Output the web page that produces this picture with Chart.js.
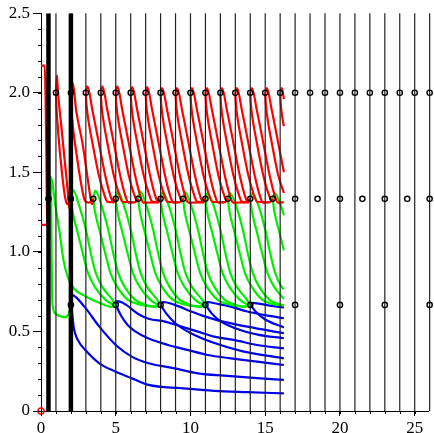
<!DOCTYPE html>
<html>
<head>
<meta charset="utf-8">
<script src="https://cdn.jsdelivr.net/npm/chart.js@4.4.1/dist/chart.umd.min.js"></script>
<style>
  html, body { margin: 0; padding: 0; background: #fff; }
</style>
</head>
<body>
<canvas id="chart" width="434" height="433"></canvas>
<script>
// grid of vertical lines and the marked nodes
const thinX = [1,2,3,4,5,6,7,8,9,10,11,12,13,14,15,16,17,18,19,20,21,22,23,24,25,26];
const thickX = [0.5, 2];
const nodes2X = [1,2,3,4,5,6,7,8,9,10,11,12,13,14,15,16,17,18,19,20,21,22,23,24,25,26];
const nodes43X = [0.5,2,3.5,5,6.5,8,9.5,11,12.5,14,15.5,17,18.5,20,21.5,23,24.5,26];
const nodes23X = [2,5,8,11,14,17,20,23,26];
const originNode = [[0, 0]];

const xTicks = [0, 5, 10, 15, 20, 25];
const yTicks = [0, 0.5, 1.0, 1.5, 2.0, 2.5];

// red, level 2 -> 4/3: branch with the overshoot peak
const redPeak = [
  [[0,2.17],[0.25,2.17],[0.3,2.0],[0.36,1.6],[0.4,1.25],[0.42,1.17]],
  [[0,1.17],[0.4,1.17],[0.46,1.25],[0.5,1.333]],
  [[1,2.0],[1.07,2.11],[1.14,2.0],[1.36,1.79],[1.58,1.58],[1.8,1.37],[1.9,1.27],[2,1.333]],
  [[2,2.0],[2.13,2.06],[2.35,1.89],[2.78,1.68],[3.11,1.47],[3.33,1.33],[3.42,1.30],[3.5,1.333]],
  [[3,2.0],[3.11,2.04],[3.44,1.89],[3.88,1.68],[4.32,1.47],[4.65,1.35],[4.85,1.31],[5,1.333]],
  [[4,2.0],[4.11,2.04],[4.44,1.89],[4.88,1.68],[5.32,1.47],[5.65,1.35],[5.85,1.31],[6.3,1.312],[6.5,1.333]],
  [[5,2.0],[5.11,2.04],[5.44,1.89],[5.88,1.68],[6.32,1.47],[6.65,1.35],[6.85,1.31],[7.8,1.312],[8,1.333]],
  [[6,2.0],[6.11,2.035],[6.44,1.89],[6.88,1.68],[7.32,1.47],[7.65,1.35],[7.85,1.31],[8,1.333]],
  [[7,2.0],[7.11,2.035],[7.44,1.89],[7.88,1.68],[8.32,1.47],[8.65,1.35],[8.85,1.31],[9.3,1.312],[9.5,1.333]],
  [[8,2.0],[8.11,2.03],[8.44,1.89],[8.88,1.68],[9.32,1.47],[9.65,1.35],[9.85,1.31],[10.8,1.312],[11,1.333]],
  [[9,2.0],[9.11,2.03],[9.44,1.89],[9.88,1.68],[10.32,1.47],[10.65,1.35],[10.85,1.31],[11,1.333]],
  [[10,2.0],[10.11,2.03],[10.44,1.89],[10.88,1.68],[11.32,1.47],[11.65,1.35],[11.85,1.31],[12.3,1.312],[12.5,1.333]],
  [[11,2.0],[11.11,2.03],[11.44,1.89],[11.88,1.68],[12.32,1.47],[12.65,1.35],[12.85,1.31],[13.8,1.312],[14,1.333]],
  [[12,2.0],[12.11,2.03],[12.44,1.89],[12.88,1.68],[13.32,1.47],[13.65,1.35],[13.85,1.31],[14,1.333]],
  [[13,2.0],[13.11,2.03],[13.44,1.89],[13.88,1.68],[14.32,1.47],[14.65,1.35],[14.85,1.31],[15.3,1.312],[15.5,1.333]],
  [[14,2.0],[14.11,2.03],[14.44,1.89],[14.88,1.68],[15.32,1.47],[15.65,1.35],[15.85,1.31],[16.25,1.312]],
  [[15,2.0],[15.11,2.03],[15.44,1.89],[15.88,1.68],[16.25,1.50]],
  [[16,2.0],[16.11,2.03],[16.25,1.96]]
];
// red, branch that drops straight from the node
const redDrop = [
  [[1,2.0],[1.04,1.9],[1.15,1.75],[1.4,1.5],[1.6,1.35],[1.75,1.30],[2,1.333]],
  [[2,2.0],[2.04,1.9],[2.12,1.8],[2.4,1.6],[2.7,1.42],[2.95,1.32],[3.2,1.31],[3.5,1.333]],
  [[3,2.0],[3.04,1.93],[3.15,1.84],[3.45,1.68],[3.85,1.49],[4.2,1.37],[4.45,1.315],[4.8,1.312],[5,1.333]],
  [[4,2.0],[4.04,1.93],[4.15,1.84],[4.45,1.68],[4.85,1.49],[5.2,1.37],[5.45,1.315],[6.3,1.312],[6.5,1.333]],
  [[5,2.0],[5.04,1.93],[5.15,1.84],[5.45,1.68],[5.85,1.49],[6.2,1.37],[6.45,1.32],[6.5,1.333]],
  [[6,2.0],[6.04,1.93],[6.15,1.84],[6.45,1.68],[6.85,1.49],[7.2,1.37],[7.45,1.315],[7.8,1.312],[8,1.333]],
  [[7,2.0],[7.04,1.93],[7.15,1.84],[7.45,1.68],[7.85,1.49],[8.2,1.37],[8.45,1.315],[9.3,1.312],[9.5,1.333]],
  [[8,2.0],[8.04,1.93],[8.15,1.84],[8.45,1.68],[8.85,1.49],[9.2,1.37],[9.45,1.32],[9.5,1.333]],
  [[9,2.0],[9.04,1.93],[9.15,1.84],[9.45,1.68],[9.85,1.49],[10.2,1.37],[10.45,1.315],[10.8,1.312],[11,1.333]],
  [[10,2.0],[10.04,1.93],[10.15,1.84],[10.45,1.68],[10.85,1.49],[11.2,1.37],[11.45,1.315],[12.3,1.312],[12.5,1.333]],
  [[11,2.0],[11.04,1.93],[11.15,1.84],[11.45,1.68],[11.85,1.49],[12.2,1.37],[12.45,1.32],[12.5,1.333]],
  [[12,2.0],[12.04,1.93],[12.15,1.84],[12.45,1.68],[12.85,1.49],[13.2,1.37],[13.45,1.315],[13.8,1.312],[14,1.333]],
  [[13,2.0],[13.04,1.93],[13.15,1.84],[13.45,1.68],[13.85,1.49],[14.2,1.37],[14.45,1.315],[15.3,1.312],[15.5,1.333]],
  [[14,2.0],[14.04,1.93],[14.15,1.84],[14.45,1.68],[14.85,1.49],[15.2,1.37],[15.45,1.32],[15.5,1.333]],
  [[15,2.0],[15.04,1.93],[15.15,1.84],[15.45,1.68],[15.85,1.49],[16.25,1.37]],
  [[16,2.0],[16.04,1.93],[16.15,1.84],[16.25,1.79]]
];

// green, level 4/3 -> 2/3: branch with the overshoot peak
const greenPeak = [
  [[0.5,1.333],[0.62,1.47],[0.75,1.44],[0.95,1.3],[1.25,1.12],[1.5,0.95],[1.8,0.84],[2.2,0.77],[3.0,0.72],[3.9,0.68],[4.7,0.655],[5,0.667]],
  [[2,1.333],[2.13,1.39],[2.57,1.285],[3.0,1.14],[3.34,0.99],[3.67,0.866],[4.1,0.78],[4.77,0.70],[5,0.667]],
  [[3.5,1.333],[3.63,1.385],[4.07,1.285],[4.5,1.14],[4.84,0.99],[5.17,0.866],[5.6,0.78],[6.27,0.70],[6.8,0.675],[7.6,0.655],[8,0.667]],
  [[5,1.333],[5.13,1.38],[5.57,1.285],[6,1.14],[6.34,0.99],[6.67,0.866],[7.1,0.78],[7.77,0.70],[8,0.667]],
  [[6.5,1.333],[6.63,1.38],[7.07,1.285],[7.5,1.14],[7.84,0.99],[8.17,0.866],[8.6,0.78],[9.27,0.70],[9.8,0.675],[10.6,0.655],[11,0.667]],
  [[8,1.333],[8.13,1.375],[8.57,1.285],[9,1.14],[9.34,0.99],[9.67,0.866],[10.1,0.78],[10.77,0.70],[11,0.667]],
  [[9.5,1.333],[9.63,1.375],[10.07,1.285],[10.5,1.14],[10.84,0.99],[11.17,0.866],[11.6,0.78],[12.27,0.70],[12.8,0.675],[13.6,0.655],[14,0.667]],
  [[11,1.333],[11.13,1.37],[11.57,1.285],[12,1.14],[12.34,0.99],[12.67,0.866],[13.1,0.78],[13.77,0.70],[14,0.667]],
  [[12.5,1.333],[12.63,1.37],[13.07,1.285],[13.5,1.14],[13.84,0.99],[14.17,0.866],[14.6,0.78],[15.27,0.70],[15.8,0.675],[16.25,0.665]],
  [[14,1.333],[14.13,1.37],[14.57,1.285],[15,1.14],[15.34,0.99],[15.67,0.866],[16.1,0.78],[16.25,0.765]],
  [[15.5,1.333],[15.63,1.37],[16.07,1.285],[16.25,1.23]]
];
// green, branch that leaves the node downward
const greenDrop = [
  [[0.5,1.333],[0.6,1.47],[0.66,1.45],[0.7,1.1],[0.74,0.75],[0.8,0.65],[1.0,0.61],[1.3,0.595],[1.6,0.59],[1.85,0.61],[2,0.667]],
  [[2,1.333],[2.1,1.26],[2.4,1.14],[2.8,0.99],[3.15,0.866],[3.6,0.78],[4.3,0.70],[4.75,0.672],[5,0.667]],
  [[3.5,1.333],[3.6,1.26],[3.9,1.14],[4.3,0.99],[4.65,0.866],[5.1,0.78],[5.8,0.70],[6.4,0.675],[7.6,0.657],[8,0.667]],
  [[5,1.333],[5.1,1.26],[5.4,1.14],[5.8,0.99],[6.15,0.866],[6.6,0.78],[7.3,0.70],[7.75,0.672],[8,0.667]],
  [[6.5,1.333],[6.6,1.26],[6.9,1.14],[7.3,0.99],[7.65,0.866],[8.1,0.78],[8.8,0.70],[9.4,0.675],[10.6,0.657],[11,0.667]],
  [[8,1.333],[8.1,1.26],[8.4,1.14],[8.8,0.99],[9.15,0.866],[9.6,0.78],[10.3,0.70],[10.75,0.672],[11,0.667]],
  [[9.5,1.333],[9.6,1.26],[9.9,1.14],[10.3,0.99],[10.65,0.866],[11.1,0.78],[11.8,0.70],[12.4,0.675],[13.6,0.657],[14,0.667]],
  [[11,1.333],[11.1,1.26],[11.4,1.14],[11.8,0.99],[12.15,0.866],[12.6,0.78],[13.3,0.70],[13.75,0.672],[14,0.667]],
  [[12.5,1.333],[12.6,1.26],[12.9,1.14],[13.3,0.99],[13.65,0.866],[14.1,0.78],[14.8,0.70],[15.4,0.675],[16.25,0.662]],
  [[14,1.333],[14.1,1.26],[14.4,1.14],[14.8,0.99],[15.15,0.866],[15.6,0.78],[16.25,0.705]],
  [[15.5,1.333],[15.6,1.26],[15.9,1.14],[16.25,1.01]]
];

// blue, level 2/3 -> 0, two from each node
const blueCurves = [
  [[2,0.667],[2.05,0.73],[2.9,0.656],[3.9,0.53],[5.0,0.415],[6.1,0.34],[7.2,0.30],[8.95,0.268],[10.5,0.237],[12.25,0.222],[14.45,0.206],[16.25,0.195]],
  [[2,0.667],[2.1,0.6],[2.2,0.52],[2.46,0.447],[3.0,0.38],[3.9,0.30],[5.0,0.247],[6.1,0.205],[7.2,0.164],[9.4,0.143],[11.6,0.126],[13.8,0.118],[16.25,0.111]],
  [[5,0.667],[5.1,0.69],[5.65,0.67],[6.5,0.61],[7.2,0.58],[8.3,0.562],[9.4,0.53],[10.5,0.499],[11.6,0.467],[12.9,0.447],[14.45,0.415],[16.25,0.394]],
  [[5,0.667],[5.35,0.6],[5.8,0.54],[6.3,0.5],[7.2,0.455],[8.5,0.415],[9.8,0.384],[11.15,0.352],[12.7,0.331],[14.45,0.31],[16.25,0.289]],
  [[8,0.667],[8.15,0.685],[8.95,0.667],[10.05,0.625],[11,0.593],[12.25,0.56],[13.8,0.53],[16.25,0.489]],
  [[8,0.667],[8.4,0.61],[9,0.55],[10,0.49],[11.5,0.43],[13.5,0.375],[16.25,0.331]],
  [[11,0.667],[11.15,0.685],[11.6,0.677],[12.7,0.656],[13.8,0.625],[14.9,0.604],[16.25,0.583]],
  [[11,0.667],[11.4,0.615],[12,0.565],[13,0.52],[14.5,0.48],[16.25,0.457]],
  [[14,0.667],[14.15,0.68],[15.3,0.662],[16.25,0.65]],
  [[14,0.667],[14.4,0.62],[15,0.575],[16.25,0.525]]
];

const pts = arr => arr.map(p => ({ x: p[0], y: p[1] }));
const tickFont = { family: "'Liberation Serif', 'DejaVu Serif', serif", size: 17 };

const datasets = [];

// nodes on top
function nodeSet(xs, y, color) {
  datasets.push({
    data: xs.map(x => ({ x: x, y: y })),
    showLine: false, clip: false,
    pointRadius: 2.6, pointBorderWidth: 1.4,
    pointBorderColor: color, pointBackgroundColor: 'rgba(255,255,255,0)'
  });
}
nodeSet(nodes2X, 2.0, '#000');
nodeSet(nodes43X, 4 / 3, '#000');
nodeSet(nodes23X, 2 / 3, '#000');
datasets.push({
  data: pts(originNode), showLine: false, clip: false,
  pointRadius: 3, pointBorderWidth: 1.4,
  pointBorderColor: '#ff0000', pointBackgroundColor: 'rgba(255,255,255,0)'
});

// vertical lines
thickX.forEach(x => datasets.push({
  data: [{ x: x, y: 0 }, { x: x, y: 2.5 }],
  showLine: true, borderColor: '#000', borderWidth: 4.5, pointRadius: 0
}));
thinX.forEach(x => datasets.push({
  data: [{ x: x, y: 0 }, { x: x, y: 2.5 }],
  showLine: true, borderColor: '#222', borderWidth: 1.2, pointRadius: 0, clip: false
}));

function curveSet(list, color) {
  list.forEach(c => datasets.push({
    data: pts(c), showLine: true, borderColor: color, borderWidth: 2.2,
    pointRadius: 0, cubicInterpolationMode: 'monotone'
  }));
}
curveSet(redPeak, '#ff0000');
curveSet(redDrop, '#ff0000');
curveSet(greenPeak, '#00ee00');
curveSet(greenDrop, '#00ee00');
curveSet(blueCurves, '#0000ee');

// minor ticks along both axes
const minorTicks = {
  id: 'minorTicks',
  afterDraw(chart) {
    const ctx = chart.ctx, xs = chart.scales.x, ys = chart.scales.y;
    ctx.save();
    ctx.strokeStyle = '#000';
    ctx.lineWidth = 1;
    ctx.beginPath();
    for (let i = 0; i <= 25; i++) {
      const px = Math.round(xs.getPixelForValue(i)) + 0.5;
      ctx.moveTo(px, ys.bottom);
      ctx.lineTo(px, ys.bottom + 3);
    }
    for (let i = 0; i <= 25; i++) {
      const py = Math.round(ys.getPixelForValue(i / 10)) + 0.5;
      ctx.moveTo(xs.left, py);
      ctx.lineTo(xs.left - 3, py);
    }
    ctx.stroke();
    ctx.restore();
  }
};

new Chart(document.getElementById('chart'), {
  type: 'scatter',
  data: { datasets: datasets },
  options: {
    responsive: false,
    animation: false,
    layout: { padding: { top: 13, right: 0, left: 0, bottom: 0 } },
    plugins: { legend: { display: false }, tooltip: { enabled: false } },
    elements: { line: { tension: 0 } },
    scales: {
      x: {
        type: 'linear', min: 0, max: 25.93,
        afterFit: s => { s.height = 22; },
        afterBuildTicks: s => { s.ticks = xTicks.map(v => ({ value: v })); },
        ticks: {
          color: '#000', padding: 2, maxRotation: 0, autoSkip: false,
          font: tickFont,
          callback: v => String(v)
        },
        grid: { drawOnChartArea: false, color: '#000', tickLength: 5 },
        border: { color: '#000', width: 1 }
      },
      y: {
        type: 'linear', min: 0, max: 2.5,
        afterFit: s => { s.width = 41; },
        afterBuildTicks: s => { s.ticks = yTicks.map(v => ({ value: v })); },
        ticks: {
          color: '#000', padding: 3, autoSkip: false,
          font: tickFont,
          callback: v => (v === 0 ? '0' : v.toFixed(1))
        },
        grid: { drawOnChartArea: false, color: '#000', tickLength: 8 },
        border: { color: '#000', width: 1 }
      }
    }
  },
  plugins: [minorTicks]
});
</script>
</body>
</html>
